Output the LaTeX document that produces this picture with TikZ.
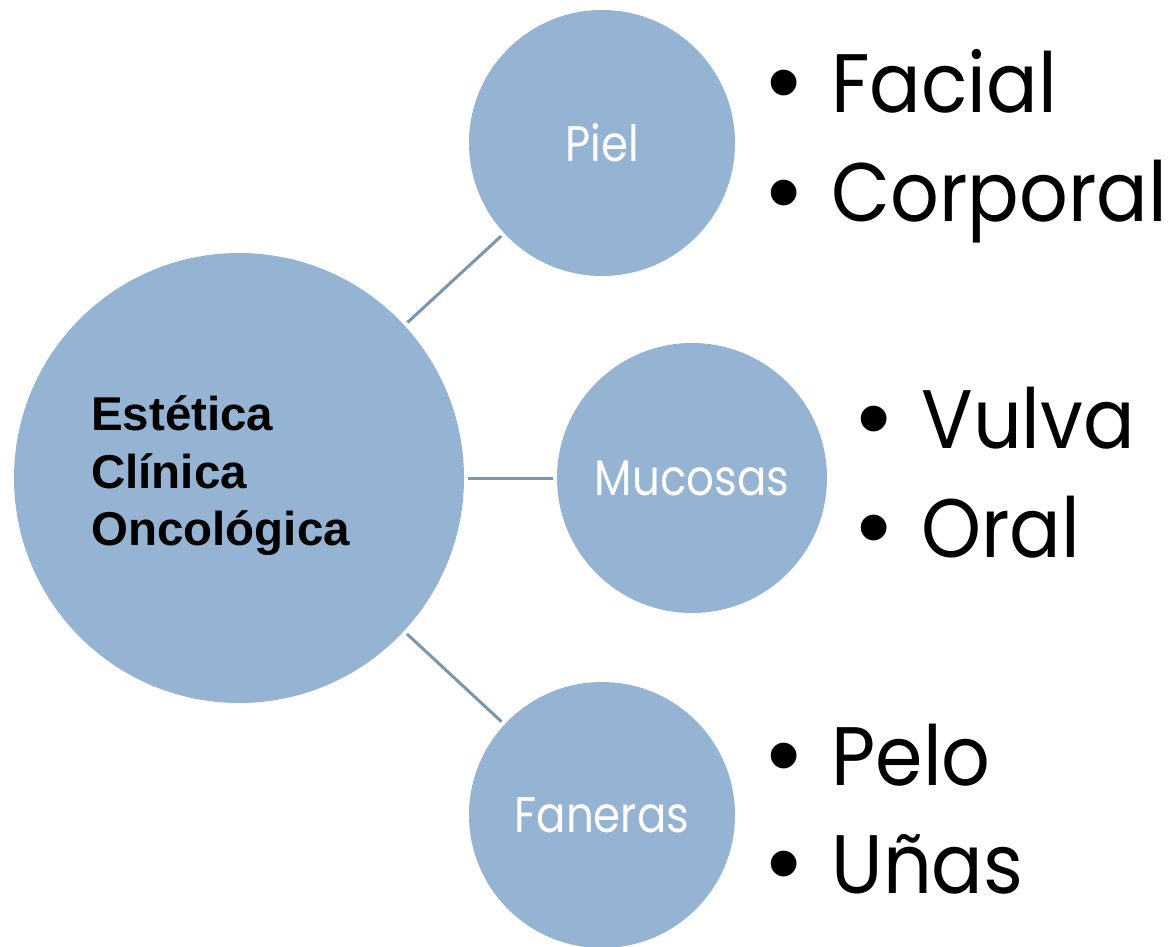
\documentclass[tikz,border=0pt]{standalone}
\usepackage{fontspec}
\setmainfont{Poppins}
\newfontfamily\labelfont{Poppins}[FakeStretch=0.87]
\newfontfamily\itemfont{Poppins}[FakeStretch=0.92]
\newfontfamily\arialfont{Liberation Sans}
\definecolor{bubble}{RGB}{149,179,211}
\definecolor{link}{RGB}{122,150,174}
\newcommand{\itembullet}{\raisebox{-2pt}{\arialfont\fontsize{95}{95}\selectfont\textbullet}\hspace{31pt}}

\begin{document}
\begin{tikzpicture}[x=1pt,y=-1pt]

	\tikzstyle{Bubble} = [
		circle,
		inner sep=0pt,
		fill=bubble,
		text=white,
		font=\labelfont\fontsize{50}{50}\selectfont
	]
	\tikzstyle{Link} = [
		draw=link,
		line width=3pt,
		shorten <=4pt,
		shorten >=4pt
	]
	\tikzstyle{Item} = [
		anchor=base west,
		inner sep=0pt,
		font=\itemfont\fontsize{83}{83}\selectfont
	]

	\useasboundingbox (0,0) rectangle (1173,947);

	% bubbles
	\node [Bubble, minimum size=450pt] (main) at (239,478) {};
	\node [Bubble, minimum size=266pt] (piel) at (602,143) {Piel};
	\node [Bubble, minimum size=270pt] (mucosas) at (692,478) {Mucosas};
	\node [Bubble, minimum size=266pt] (faneras) at (602,815) {Faneras};

	\node [anchor=west, align=left, inner sep=0pt,
		font=\arialfont\bfseries\fontsize{47.5}{57.5}\selectfont]
		(title) at (91,476) {Estética\\Clínica\\Oncológica};

	% links
	\draw [Link] (main) -- (piel);
	\draw [Link] (main) -- (mucosas);
	\draw [Link] (main) -- (faneras);

	% lists
	\node [Item] (facial) at (767,113) {\itembullet Facial};
	\node [Item] (corporal) at (767,222) {\itembullet Corporal};
	\node [Item] (vulva) at (857,448) {\itembullet Vulva};
	\node [Item] (oral) at (857,557) {\itembullet Oral};
	\node [Item] (pelo) at (767,785) {\itembullet Pelo};
	\node [Item] (unas) at (767,893) {\itembullet Uñas};
\end{tikzpicture}
\end{document}
